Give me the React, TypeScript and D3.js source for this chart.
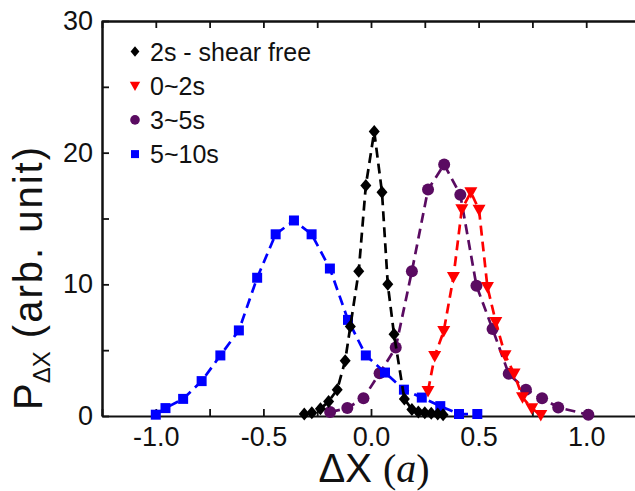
import { useEffect, useRef } from 'react'
import * as d3 from 'd3'

const W = 635
const H = 491

// 2s - shear free (black diamonds)
const freeX = [-0.31, -0.275, -0.235, -0.197, -0.157, -0.12, -0.096, -0.057, -0.024, 0.015, 0.051, 0.078, 0.107, 0.155, 0.19, 0.22, 0.25, 0.28, 0.31, 0.335]
const freeY = [0.15, 0.25, 0.55, 1.1, 2.0, 4.2, 6.8, 11.0, 17.5, 21.6, 17.0, 10.0, 6.2, 1.3, 0.5, 0.3, 0.25, 0.2, 0.15, 0.1]

// 0~2s (red triangles)
const earlyX = [0.265, 0.296, 0.338, 0.383, 0.422, 0.464, 0.502, 0.541, 0.58, 0.623, 0.665, 0.704, 0.747, 0.789]
const earlyY = [1.9, 4.55, 6.45, 10.55, 15.7, 17.0, 15.66, 9.8, 7.14, 4.62, 3.23, 1.42, 0.58, 0.08]

// 3~5s (purple circles)
const midX = [-0.19, -0.11, -0.035, 0.04, 0.115, 0.19, 0.265, 0.34, 0.415, 0.49, 0.565, 0.64, 0.72, 0.795, 0.87, 1.01]
const midY = [0.3, 0.6, 1.35, 3.25, 5.2, 11.0, 17.2, 19.1, 16.8, 9.9, 6.6, 3.2, 2.0, 1.35, 0.65, 0.1]

// 5~10s (blue squares)
const lateX = [-1.0, -0.955, -0.873, -0.787, -0.70, -0.614, -0.529, -0.443, -0.358, -0.276, -0.191, -0.107, -0.024, 0.065, 0.153, 0.236, 0.322, 0.409, 0.494]
const lateY = [0.1, 0.6, 1.3, 2.65, 4.6, 6.5, 10.5, 13.8, 14.85, 13.8, 11.2, 7.3, 4.6, 3.3, 2.0, 1.4, 0.75, 0.15, 0.15]

const xTicks = [-1.25, -1, -0.75, -0.5, -0.25, 0, 0.25, 0.5, 0.75, 1, 1.25]
const yTicks = [0, 5, 10, 15, 20, 25, 30]

const series = [
  { name: '3~5s', xs: midX, ys: midY, color: '#5a0b61', shape: 'circle' },
  { name: '5~10s', xs: lateX, ys: lateY, color: '#0000ff', shape: 'square' },
  { name: '2s - shear free', xs: freeX, ys: freeY, color: '#000000', shape: 'diamond' },
  { name: '0~2s', xs: earlyX, ys: earlyY, color: '#ff0000', shape: 'triangle' },
]
const legendOrder = ['2s - shear free', '0~2s', '3~5s', '5~10s']

const FONT = 'Arial, "Liberation Sans", Helvetica, sans-serif'
const SERIF = '"Liberation Serif", "Times New Roman", serif'

const markerPath = (shape: string, k = 1) => {
  if (shape === 'diamond') return `M0,${-6.5 * k}L${5.5 * k},0L0,${6.5 * k}L${-5.5 * k},0Z`
  if (shape === 'triangle') return `M${-6.5 * k},${-5 * k}L${6.5 * k},${-5 * k}L0,${6.5 * k}Z`
  if (shape === 'square') return `M${-5 * k},${-5 * k}h${10 * k}v${10 * k}h${-10 * k}Z`
  return d3.arc()({ innerRadius: 0, outerRadius: 6 * k, startAngle: 0, endAngle: 2 * Math.PI }) as string
}

const App = () => {
  const svgRef = useRef<SVGSVGElement>(null)

  useEffect(() => {
    const svg = d3.select(svgRef.current)
    svg.selectAll('*').remove()

    const x = d3.scaleLinear().domain([-1.25, 1.25]).range([102, 640])
    const y = d3.scaleLinear().domain([0, 30]).range([416, 21])

    const styleAxis = (g: any) => {
      g.attr('font-size', 27).attr('font-family', FONT)
      g.selectAll('.domain').attr('stroke', '#111').attr('stroke-width', 2)
      g.selectAll('.tick line').attr('stroke', '#111').attr('stroke-width', 1.8)
      g.selectAll('.tick text').attr('fill', '#111')
      g.selectAll('.tick text').filter(function (this: any) { return this.textContent === '' }).remove()
    }

    svg.append('g')
      .attr('transform', `translate(0,${y(0)})`)
      .call(d3.axisBottom(x).tickValues(xTicks).tickSize(-7).tickSizeOuter(0).tickPadding(11)
        .tickFormat((d: any) => (Math.abs(d) <= 1 && Math.abs(d * 2 - Math.round(d * 2)) < 1e-6 ? d.toFixed(1) : '')))
      .call(styleAxis)

    svg.append('g')
      .attr('transform', `translate(0,${y(30)})`)
      .call(d3.axisTop(x).tickValues(xTicks).tickSize(-7).tickSizeOuter(0).tickFormat(() => ''))
      .call(styleAxis)

    svg.append('g')
      .attr('transform', `translate(${x(-1.25)},0)`)
      .call(d3.axisLeft(y).tickValues(yTicks).tickSize(-7).tickSizeOuter(0).tickPadding(9)
        .tickFormat((d: any) => (d % 10 === 0 ? String(d) : '')))
      .call(styleAxis)

    // frame edges (left and top)
    svg.append('path')
      .attr('d', `M${x(-1.25) + 0.5},${y(0) + 0.5}V${y(30) + 0.5}H${x(1.25)}`)
      .attr('fill', 'none')
      .attr('stroke', '#111')
      .attr('stroke-width', 2)

    series.forEach(s => {
      const pts = s.xs.map((v, i) => [x(v), y(s.ys[i])] as [number, number])
      svg.append('path')
        .attr('d', d3.line()(pts))
        .attr('fill', 'none')
        .attr('stroke', s.color)
        .attr('stroke-width', 2.7)
        .attr('stroke-dasharray', '10,6')
      svg.append('g').selectAll('path')
        .data(pts)
        .join('path')
        .attr('d', markerPath(s.shape))
        .attr('transform', d => `translate(${d[0]},${d[1]})`)
        .attr('fill', s.color)
    })

    // legend
    const lg = svg.append('g').attr('font-family', FONT).attr('font-size', 25)
    legendOrder.forEach((name, i) => {
      const s = series.find(d => d.name === name)!
      const cy = 51.5 + i * 34.2
      lg.append('path')
        .attr('d', markerPath(s.shape, 0.8))
        .attr('transform', `translate(135,${cy})`)
        .attr('fill', s.color)
      lg.append('text')
        .attr('x', 150)
        .attr('y', cy + 9)
        .attr('fill', '#111')
        .text(name)
    })

    // axis titles
    const xt = svg.append('text')
      .attr('x', 374)
      .attr('y', 482)
      .attr('text-anchor', 'middle')
      .attr('font-size', 40)
      .attr('fill', '#111')
    xt.append('tspan').attr('font-family', FONT).text('ΔX ')
    xt.append('tspan').attr('font-family', SERIF).text('(')
    xt.append('tspan').attr('font-family', SERIF).attr('font-style', 'italic').text('a')
    xt.append('tspan').attr('font-family', SERIF).text(')')

    const yt = svg.append('text')
      .attr('transform', 'translate(42,410) rotate(-90)')
      .attr('text-anchor', 'start')
      .attr('font-family', FONT)
      .attr('font-size', 40)
      .attr('fill', '#111')
    yt.append('tspan').text('P')
    yt.append('tspan').attr('font-size', 24).attr('dy', 8).text('ΔX')
    yt.append('tspan').attr('dy', -8).attr('letter-spacing', 2).text(' (arb. unit)')
  }, [])

  return (
    <svg
      ref={svgRef}
      width={W}
      height={H}
      style={{ position: 'absolute', left: 0, top: 0, background: '#fff' }}
    />
  )
}

export default App
